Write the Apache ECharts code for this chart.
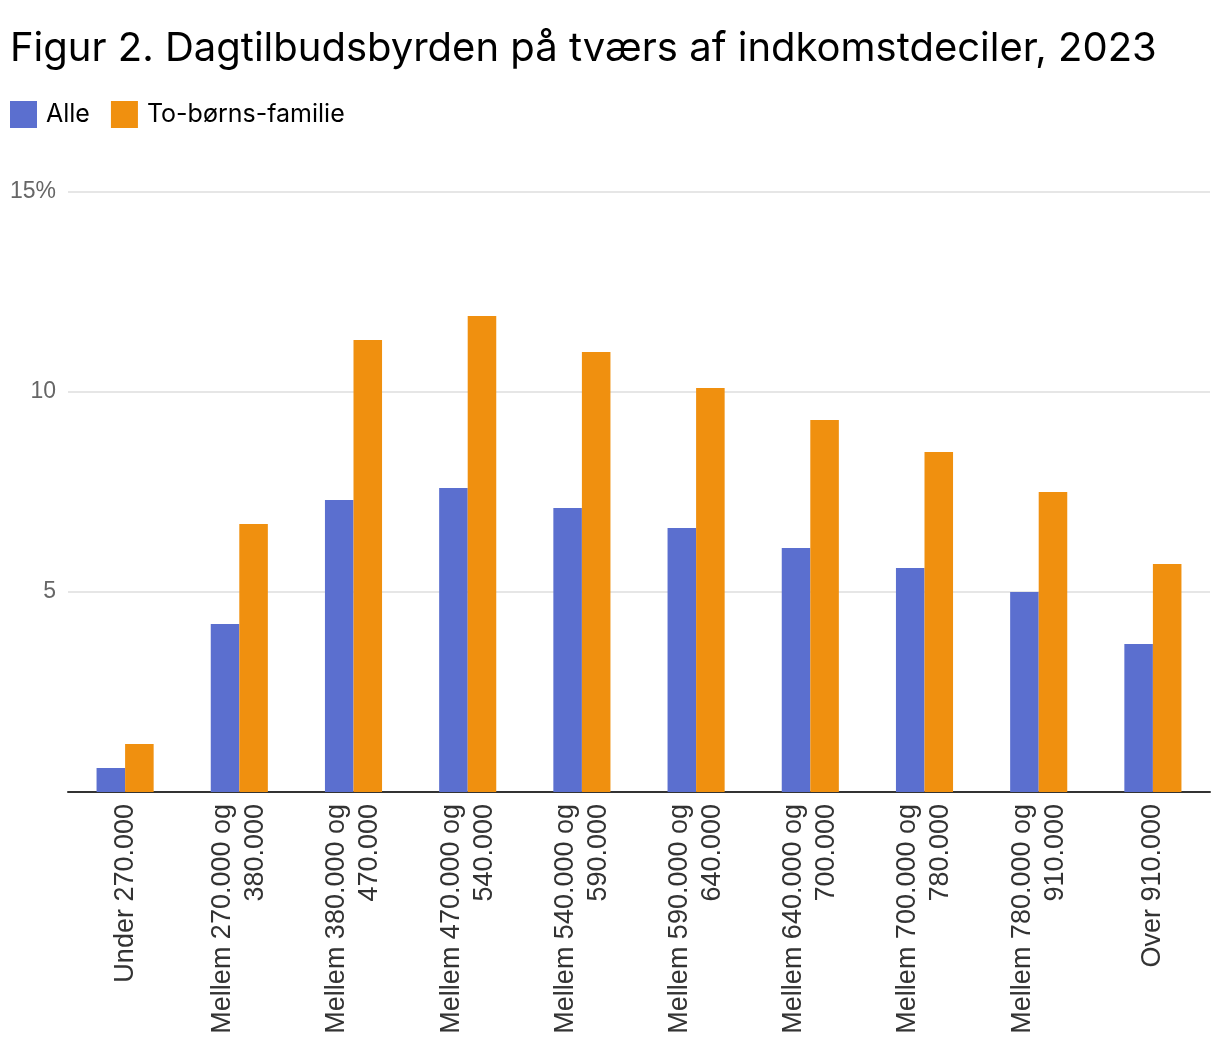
<!DOCTYPE html>
<html>
<head>
<meta charset="utf-8">
<script src="https://cdn.jsdelivr.net/npm/echarts@6/dist/echarts.min.js"></script>
<style>
html,body{margin:0;padding:0;background:#fff;}
#chart{width:1220px;height:1052px;}
</style>
</head>
<body>
<div id="chart"></div>
<script>
const titleText = 'Figur 2. Dagtilbudsbyrden på tværs af indkomstdeciler, 2023';
const categories = [
  'Under 270.000',
  'Mellem 270.000 og\n380.000',
  'Mellem 380.000 og\n470.000',
  'Mellem 470.000 og\n540.000',
  'Mellem 540.000 og\n590.000',
  'Mellem 590.000 og\n640.000',
  'Mellem 640.000 og\n700.000',
  'Mellem 700.000 og\n780.000',
  'Mellem 780.000 og\n910.000',
  'Over 910.000'
];
const seriesNames = ['Alle', 'To-børns-familie'];
const alle = [0.6, 4.2, 7.3, 7.6, 7.1, 6.6, 6.1, 5.6, 5.0, 3.7];
const toBorn = [1.2, 6.7, 11.3, 11.9, 11.0, 10.1, 9.3, 8.5, 7.5, 5.7];
const yTicks = [0, 5, 10, 15];

const chart = echarts.init(document.getElementById('chart'));
chart.setOption({
  animation: false,
  backgroundColor: '#fff',
  title: {
    text: titleText,
    left: 5, top: 24,
    textStyle: {fontFamily: 'Inter', fontSize: 40, fontWeight: 400, color: '#000'}
  },
  legend: {
    left: 10, top: 101, padding: 0,
    itemWidth: 27, itemHeight: 27, itemGap: 21,
    icon: 'rect',
    textStyle: {fontFamily: 'Inter', fontSize: 25, color: '#000', padding: [6,0,0,4]},
    data: seriesNames
  },
  grid: {left: 68, right: 10, top: 192, bottom: 260, containLabel: false},
  xAxis: {
    type: 'category',
    data: categories,
    axisLine: {lineStyle: {color: '#333', width: 2}},
    axisTick: {show: false},
    axisLabel: {
      rotate: 90, interval: 0, margin: 12,
      fontFamily: 'Liberation Sans', fontSize: 27, color: '#333', lineHeight: 33
    }
  },
  yAxis: {
    type: 'value', min: 0, max: 15, interval: 5,
    axisLine: {show: false}, axisTick: {show: false},
    splitLine: {lineStyle: {color: '#e6e6e6', width: 2}},
    axisLabel: {
      margin: 12, fontFamily: 'Liberation Sans', fontSize: 23, color: '#666',
      formatter: v => v === 0 ? '' : (v === 15 ? v + '%' : String(v))
    }
  },
  series: [
    {name: seriesNames[0], type: 'bar', data: alle, barWidth: '25%', barGap: '0%', itemStyle: {color: '#5b6fcf'}},
    {name: seriesNames[1], type: 'bar', data: toBorn, barWidth: '25%', barGap: '0%', itemStyle: {color: '#f0900f'}}
  ]
});
</script>
</body>
</html>
